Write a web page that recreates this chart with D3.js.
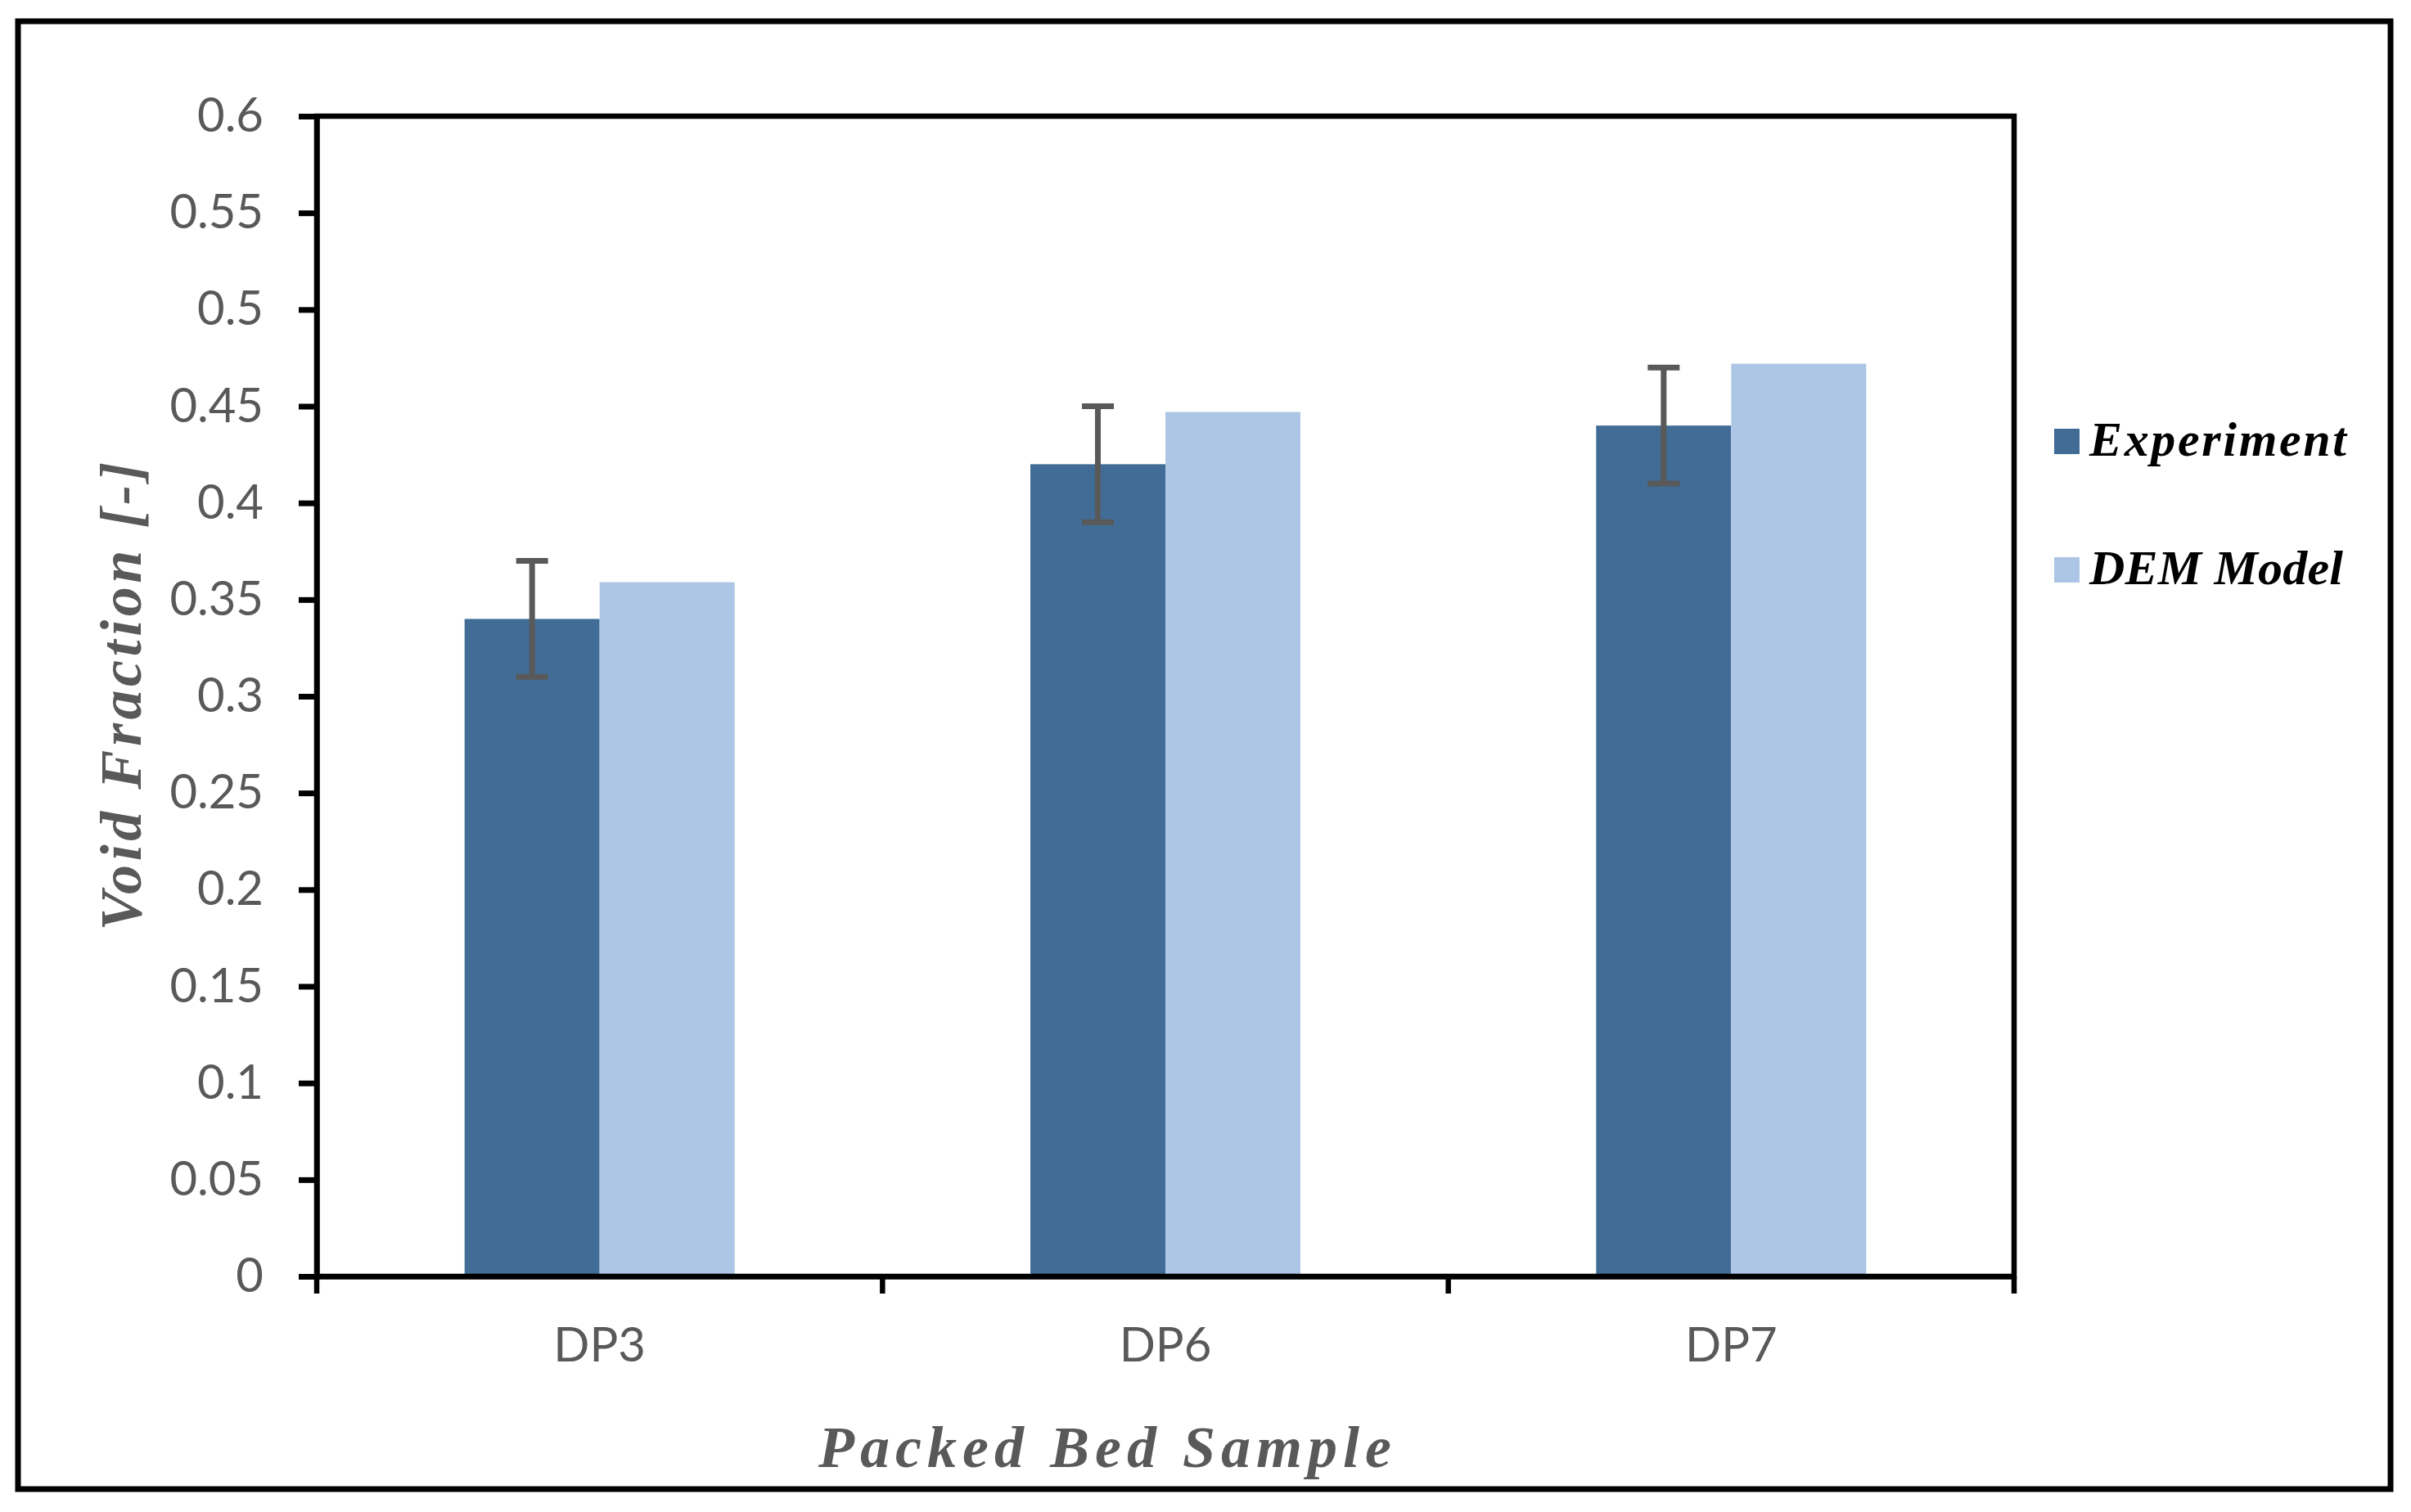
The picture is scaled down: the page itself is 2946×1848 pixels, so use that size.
<!DOCTYPE html>
<html>
<head>
<meta charset="utf-8">
<script src="https://cdn.jsdelivr.net/npm/d3@7"></script>
<style>
    body { margin: 0; background: #fff; }
    .tick text { font-family: Lato, "Open Sans", sans-serif; fill: #595959; }
    .axis-title { font-family: "Liberation Serif", "DejaVu Serif", serif; font-weight: bold; font-style: italic; fill: #595959; }
    .legend text { font-family: "Liberation Serif", "DejaVu Serif", serif; font-weight: bold; font-style: italic; fill: #000; }
</style>
</head>
<body>
<div id="chart-area"></div>
<script>
// data
var categories = ["DP3", "DP6", "DP7"];
var seriesNames = ["Experiment", "DEM Model"];
var experiment = [0.34, 0.42, 0.44];
var demModel = [0.359, 0.447, 0.472];
var expError = [0.03, 0.03, 0.03];
var yTicks = [0, 0.05, 0.1, 0.15, 0.2, 0.25, 0.3, 0.35, 0.4, 0.45, 0.5, 0.55, 0.6];

var colors = ["#406c96", "#adc6e5"];

var W = 2946, H = 1848;
var plot = { left: 387, right: 2461, top: 142, bottom: 1560 };

var svg = d3.select("#chart-area").append("svg")
    .attr("width", W)
    .attr("height", H);

svg.append("rect")
    .attr("width", W)
    .attr("height", H)
    .attr("fill", "#fff");

// outer frame
svg.append("rect")
    .attr("x", 22)
    .attr("y", 26)
    .attr("width", 2921 - 22)
    .attr("height", 1820 - 26)
    .attr("fill", "none")
    .attr("stroke", "#000")
    .attr("stroke-width", 7);

//x scales
var x0 = d3.scaleBand()
    .domain(categories)
    .range([plot.left, plot.right])
    .padding(0);

var x1 = d3.scaleBand()
    .domain(seriesNames)
    .range([0, x0.bandwidth()])
    .paddingInner(0)
    .paddingOuter(1.095);

//y scale
var y = d3.scaleLinear()
    .domain([0, 0.6])
    .range([plot.bottom, plot.top]);

var rows = categories.map(function (c, i) {
    return { cat: c, values: [experiment[i], demModel[i]], err: expError[i] };
});

// bars
var groups = svg.selectAll("g.cat").data(rows).enter()
    .append("g")
    .attr("class", "cat")
    .attr("transform", function (d) { return "translate(" + x0(d.cat) + ",0)"; });

groups.selectAll("rect")
    .data(function (d) {
        return d.values.map(function (v, j) { return { name: seriesNames[j], value: v, j: j }; });
    })
    .enter()
    .append("rect")
    .attr("x", function (d) { return x1(d.name); })
    .attr("y", function (d) { return y(d.value); })
    .attr("width", x1.bandwidth())
    .attr("height", function (d) { return y(0) - y(d.value); })
    .attr("fill", function (d) { return colors[d.j]; });

// error bars on the experiment series
var capHalf = 19.5;
groups.each(function (d) {
    var g = d3.select(this);
    var cx = x1("Experiment") + x1.bandwidth() / 2;
    var hi = y(d.values[0] + d.err), lo = y(d.values[0] - d.err);
    g.append("line")
        .attr("x1", cx).attr("x2", cx)
        .attr("y1", hi).attr("y2", lo)
        .attr("stroke", "#595959").attr("stroke-width", 7);
    [hi, lo].forEach(function (yy) {
        g.append("line")
            .attr("x1", cx - capHalf).attr("x2", cx + capHalf)
            .attr("y1", yy).attr("y2", yy)
            .attr("stroke", "#595959").attr("stroke-width", 7);
    });
});

// plot frame (top and right)
svg.append("rect")
    .attr("x", plot.left)
    .attr("y", plot.top)
    .attr("width", plot.right - plot.left)
    .attr("height", plot.bottom - plot.top)
    .attr("fill", "none")
    .attr("stroke", "#000")
    .attr("stroke-width", 6.5);

//y axis
var yAxisCall = d3.axisLeft(y)
    .tickValues(yTicks)
    .tickFormat(d3.format("~g"))
    .tickSize(22)
    .tickPadding(43);

var yAxisGroup = svg.append("g")
    .attr("class", "y-axis")
    .attr("transform", "translate(" + plot.left + ",0)")
    .call(yAxisCall);
yAxisGroup.select(".domain").attr("stroke", "#000").attr("stroke-width", 6.5);
yAxisGroup.selectAll(".tick line").attr("stroke", "#000").attr("stroke-width", 7);
yAxisGroup.selectAll(".tick text").attr("font-size", 58);

//x axis (labels at centres, ticks between categories)
var xAxisCall = d3.axisBottom(x0)
    .tickSize(0)
    .tickPadding(63);

var xAxisGroup = svg.append("g")
    .attr("class", "x-axis")
    .attr("transform", "translate(0," + plot.bottom + ")")
    .call(xAxisCall);
xAxisGroup.select(".domain").attr("stroke", "#000").attr("stroke-width", 6.5);
xAxisGroup.selectAll(".tick text").attr("font-size", 58);

var bounds = categories.map(function (c) { return x0(c); }).concat([x0(categories[categories.length - 1]) + x0.step()]);
xAxisGroup.selectAll("line.bound").data(bounds).enter()
    .append("line")
    .attr("class", "bound")
    .attr("x1", function (d) { return d; })
    .attr("x2", function (d) { return d; })
    .attr("y1", 0)
    .attr("y2", 21)
    .attr("stroke", "#000")
    .attr("stroke-width", 6.5);

// axis titles
svg.append("text")
    .attr("class", "axis-title")
    .attr("transform", "translate(172," + ((plot.top + plot.bottom) / 2) + ") rotate(-90)")
    .attr("text-anchor", "middle")
    .attr("font-size", 72)
    .attr("textLength", 573)
    .attr("lengthAdjust", "spacing")
    .text("Void Fraction [-]");

svg.append("text")
    .attr("class", "axis-title")
    .attr("x", 1350)
    .attr("y", 1793)
    .attr("text-anchor", "middle")
    .attr("font-size", 72)
    .attr("textLength", 700)
    .attr("lengthAdjust", "spacing")
    .text("Packed Bed Sample");

// legend
var legend = svg.append("g").attr("class", "legend");
var legendY = [524, 681];
var legendLen = [314, 310];
seriesNames.forEach(function (name, i) {
    legend.append("rect")
        .attr("x", 2510)
        .attr("y", legendY[i])
        .attr("width", 31)
        .attr("height", 31)
        .attr("fill", colors[i]);
    legend.append("text")
        .attr("x", 2553)
        .attr("y", legendY[i] + 33)
        .attr("font-size", 60)
        .attr("textLength", legendLen[i])
        .attr("lengthAdjust", "spacing")
        .text(name);
});
</script>
</body>
</html>
